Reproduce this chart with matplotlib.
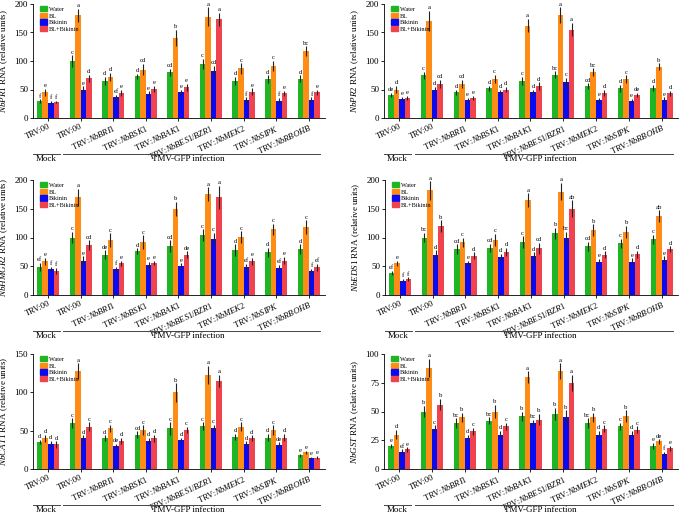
import numpy as np
import matplotlib
matplotlib.use("Agg")
import matplotlib.pyplot as plt
from matplotlib.patches import Patch

plt.rcParams['font.family'] = ['Liberation Serif', 'DejaVu Serif']
plt.rcParams['mathtext.fontset'] = 'custom'
plt.rcParams['mathtext.rm'] = 'Liberation Serif'
plt.rcParams['mathtext.it'] = 'Liberation Serif:italic'

groups = ["TRV:00", "TRV:00", "NbBRI1", "NbBSK1", "NbBAK1", "NbBES1/BZR1", "NbMEK2", "NbSIPK", "NbRBOHB"]
treatments = ["Water", "BL", "Bikinin", "BL+Bikinin"]
colors = ["#1fb523", "#ff8c14", "#0a0af0", "#f0434e"]

# values per treatment (Water, BL, Bikinin, BL+Bikinin) across 9 groups
pr1_vals = [[30, 100, 65, 73, 80, 95, 65, 68, 69],
            [45, 180, 72, 85, 141, 178, 87, 91, 117],
            [26, 50, 36, 42, 45, 82, 31, 30, 32],
            [28, 70, 44, 51, 54, 173, 46, 43, 45]]
pr1_err = [[3, 10, 7, 5, 6, 9, 7, 7, 6],
           [6, 12, 7, 10, 14, 16, 9, 9, 9],
           [4, 6, 5, 5, 4, 10, 5, 5, 4],
           [2, 6, 5, 6, 6, 12, 6, 5, 5]]
pr1_let = [["f", "c", "d", "d", "cd", "c", "d", "d", "d"],
           ["e", "a", "d", "cd", "b", "a", "c", "c", "bc"],
           ["f", "e", "ef", "e", "e", "cd", "f", "f", "f"],
           ["f", "d", "e", "e", "e", "a", "e", "e", "e"]]

pr2_vals = [[40, 75, 45, 52, 65, 76, 56, 52, 53],
            [50, 170, 60, 69, 162, 180, 80, 68, 90],
            [34, 50, 32, 45, 45, 63, 31, 30, 32],
            [35, 60, 35, 50, 56, 155, 44, 40, 43]]
pr2_err = [[4, 6, 5, 5, 7, 6, 5, 6, 5],
           [7, 18, 7, 7, 12, 14, 7, 7, 6],
           [3, 5, 3, 4, 4, 8, 4, 4, 4],
           [4, 7, 4, 5, 7, 12, 5, 4, 5]]
pr2_let = [["de", "c", "d", "d", "c", "bc", "cd", "d", "d"],
           ["d", "a", "cd", "c", "a", "a", "bc", "c", "b"],
           ["e", "d", "e", "d", "d", "c", "e", "e", "e"],
           ["e", "cd", "e", "d", "d", "a", "d", "de", "d"]]

hmgr2_vals = [[49, 100, 70, 76, 85, 104, 78, 74, 80],
              [59, 170, 95, 92, 150, 175, 101, 114, 118],
              [45, 60, 45, 52, 50, 98, 49, 47, 41],
              [42, 87, 55, 56, 70, 170, 59, 60, 48]]
hmgr2_err = [[7, 10, 8, 5, 10, 10, 10, 8, 8],
             [6, 15, 12, 12, 12, 12, 10, 10, 12],
             [4, 7, 4, 6, 5, 10, 5, 6, 5],
             [5, 8, 5, 4, 6, 20, 6, 6, 6]]
hmgr2_let = [["ef", "c", "de", "d", "cd", "c", "d", "d", "d"],
             ["e", "a", "c", "c", "b", "a", "c", "c", "c"],
             ["f", "e", "f", "e", "e", "c", "ef", "ef", "f"],
             ["f", "cd", "e", "e", "de", "a", "e", "e", "ef"]]

eds1_vals = [[38, 100, 80, 82, 92, 107, 85, 90, 97],
             [55, 182, 92, 96, 165, 180, 113, 110, 137],
             [25, 70, 55, 66, 67, 100, 58, 58, 61],
             [28, 120, 68, 75, 81, 150, 70, 71, 80]]
eds1_err = [[4, 8, 8, 7, 10, 10, 8, 8, 8],
            [5, 16, 8, 10, 12, 15, 10, 10, 10],
            [3, 8, 5, 6, 7, 10, 5, 6, 6],
            [3, 10, 6, 7, 10, 15, 6, 6, 5]]
eds1_let = [["ef", "bc", "cd", "cd", "c", "b", "cd", "c", "c"],
            ["e", "a", "c", "c", "a", "a", "b", "b", "ab"],
            ["f", "d", "e", "d", "d", "bc", "e", "e", "e"],
            ["f", "b", "d", "d", "cd", "ab", "d", "d", "d"]]

cat1_vals = [[35, 60, 40, 45, 53, 56, 42, 41, 18],
             [40, 128, 53, 51, 100, 123, 55, 51, 22],
             [33, 40, 30, 37, 38, 53, 33, 31, 14],
             [32, 55, 37, 40, 51, 115, 40, 41, 15]]
cat1_err = [[3, 6, 4, 4, 8, 5, 4, 5, 2],
            [5, 10, 5, 6, 12, 12, 6, 6, 2],
            [4, 4, 3, 4, 3, 5, 3, 4, 2],
            [4, 6, 4, 5, 4, 8, 4, 5, 2]]
cat1_let = [["d", "c", "d", "cd", "c", "c", "d", "d", "e"],
            ["d", "a", "c", "c", "b", "a", "c", "c", "e"],
            ["d", "d", "de", "d", "d", "c", "d", "de", "e"],
            ["d", "c", "d", "d", "c", "a", "d", "d", "e"]]

gst_vals = [[20, 50, 40, 42, 46, 48, 40, 37, 20],
            [30, 88, 45, 50, 80, 85, 45, 46, 24],
            [15, 35, 27, 30, 40, 45, 30, 30, 13],
            [17, 56, 33, 37, 43, 75, 35, 34, 18]]
gst_err = [[2, 5, 4, 3, 4, 5, 4, 3, 3],
           [4, 8, 4, 6, 5, 7, 4, 5, 2],
           [2, 3, 3, 3, 3, 6, 3, 3, 2],
           [2, 5, 3, 3, 5, 7, 3, 3, 2]]
gst_let = [["e", "b", "bc", "bc", "b", "b", "bc", "c", "e"],
           ["d", "a", "b", "b", "a", "a", "b", "b", "de"],
           ["ef", "c", "d", "d", "bc", "b", "d", "d", "f"],
           ["e", "b", "c", "c", "b", "a", "c", "c", "e"]]

panels = [
    ("NbPR1", pr1_vals, pr1_err, pr1_let, [0, 50, 100, 150, 200]),
    ("NbPR2", pr2_vals, pr2_err, pr2_let, [0, 50, 100, 150, 200]),
    ("NbHMGR2", hmgr2_vals, hmgr2_err, hmgr2_let, [0, 50, 100, 150, 200]),
    ("NbEDS1", eds1_vals, eds1_err, eds1_let, [0, 50, 100, 150, 200]),
    ("NbCAT1", cat1_vals, cat1_err, cat1_let, [0, 50, 100, 150]),
    ("NbGST", gst_vals, gst_err, gst_let, [0, 25, 50, 75, 100]),
]

W, H = 685, 514
fig = plt.figure(figsize=(W / 100, H / 100), dpi=100)

# axes rectangles in pixels: left, right, top(y of max tick), bottom(y of 0)
rects = [(33, 325, 4, 118), (384, 678, 4, 118),
         (33, 325, 180, 295), (385, 678, 180, 295),
         (33, 325, 354, 469), (384, 678, 354, 469)]

def xlabel_text(g):
    if g == "TRV:00":
        return "TRV:00"
    return "TRV:$\\mathit{" + g + "}$"

bw = 0.17
offsets = (np.arange(4) - 1.5) * bw
x = np.arange(len(groups))

for (gene, vals, errs, lets, yt), (l, r, t, b) in zip(panels, rects):
    ax = fig.add_axes([l / W, 1 - b / H, (r - l) / W, (b - t) / H])
    ymax = yt[-1]
    for k in range(4):
        ax.bar(x + offsets[k], vals[k], width=bw, color=colors[k],
               yerr=errs[k], error_kw=dict(ecolor="#222222", elinewidth=0.8, capsize=0),
               label=treatments[k], zorder=2)
        for i in range(len(groups)):
            ax.text(x[i] + offsets[k], vals[k][i] + errs[k][i] + ymax * 0.005, lets[k][i],
                    ha="center", va="bottom", fontsize=4.8)
    ax.set_xlim(-0.46, 8.5)
    ax.set_ylim(0, ymax)
    ax.set_yticks(yt)
    ax.tick_params(axis="y", labelsize=6.5, length=2.5, width=0.6, pad=1)
    ax.tick_params(axis="x", length=2.5, width=0.6, pad=1)
    ax.set_xticks(x)
    ax.set_xticklabels([xlabel_text(g) for g in groups], rotation=25, ha="right",
                       rotation_mode="anchor", fontsize=6)
    for s in ["top", "right"]:
        ax.spines[s].set_visible(False)
    for s in ["left", "bottom"]:
        ax.spines[s].set_linewidth(0.6)
    ax.set_ylabel("$\\mathit{" + gene + "}$ RNA (relative units)", fontsize=6.5, labelpad=3)
    handles = [Patch(color=c, label=tname) for c, tname in zip(colors, treatments)]
    ax.legend(handles=handles, loc="upper left", bbox_to_anchor=(0.01, 1.02), fontsize=4.5,
              frameon=False, handlelength=1.0, handleheight=0.9, handletextpad=0.4,
              labelspacing=0.15, borderpad=0.2)
    # Mock / TMV-GFP infection annotations
    trans = ax.get_xaxis_transform()
    ly = -(36 / (b - t))
    ty = -(41 / (b - t))
    ax.plot([-0.46, 0.37], [ly, ly], transform=trans, color="#444444", lw=0.7, clip_on=False)
    ax.plot([0.47, 8.35], [ly, ly], transform=trans, color="#444444", lw=0.7, clip_on=False)
    ax.text(-0.05, ty, "Mock", transform=trans, ha="center", va="center", fontsize=6.5)
    ax.text(4.3, ty, "TMV-GFP infection", transform=trans, ha="center", va="center", fontsize=6.5)

fig.savefig("out.png", dpi=100)
